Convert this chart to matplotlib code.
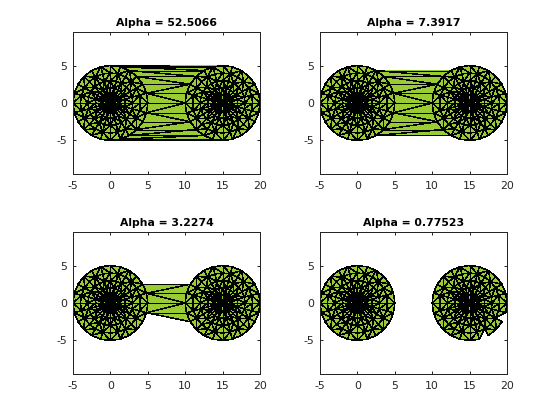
"""Alpha shapes of two ringed point clouds at four alpha radii."""

import matplotlib

matplotlib.use("Agg")

import matplotlib.pyplot as plt
import numpy as np
from matplotlib.collections import LineCollection, PolyCollection

ALPHAS = [52.5066, 7.3917, 3.2274, 0.77523]
TITLES = ["Alpha = 52.5066", "Alpha = 7.3917", "Alpha = 3.2274", "Alpha = 0.77523"]
CLUSTER_CENTRES = [0, 15]
RING_RADII = [1, 2, 3, 4, 5]
SPOKE_ANGLES = [15, 30, 45, 60, 75, 90, 105, 120, 135, 150, 165, 180,
                195, 210, 225, 240, 255, 270, 285, 300, 315, 330, 345, 360]
# diagonal of each cell between two rings, one string per ring gap, one character per spoke
RING_DIAGONALS = [
    "101100110100101101001101",
    "011010011011010010110010",
    "110100101101100101001011",
    "001011010110010010010110",
]
# which diagonal splits each strip between the circles, from y=0 outwards
BRIDGE_DIAGONALS = ["down", "up", "down", "down", "down", "down"]
# triangles missing from each panel, given by a point inside them
HOLES = [[], [], [(6.0, -2.2)], [(19.2, -2.0), (17.0, -4.1)]]
X_TICKS = [-5, 0, 5, 10, 15, 20]
Y_TICKS = [-5, 0, 5]

# pixel boxes of the four axes: left, top, right, bottom
AX_BOXES = [(73, 32, 260, 174), (320, 32, 507, 174), (73, 232, 260, 374), (320, 232, 507, 374)]
FACE = "#99cc33"
AXIS_GREY = "#262626"


def ring_point(centre, radius, angle):
    return (centre + radius * np.cos(np.radians(angle)), radius * np.sin(np.radians(angle)))


def circle_triangles(centre):
    tris = []
    for a, b in zip(SPOKE_ANGLES, SPOKE_ANGLES[1:] + SPOKE_ANGLES[:1]):
        tris.append([(centre, 0.0), ring_point(centre, RING_RADII[0], a), ring_point(centre, RING_RADII[0], b)])
    for k, (r0, r1) in enumerate(zip(RING_RADII, RING_RADII[1:])):
        for i, a in enumerate(SPOKE_ANGLES):
            b = SPOKE_ANGLES[(i + 1) % len(SPOKE_ANGLES)]
            p00, p01 = ring_point(centre, r0, a), ring_point(centre, r0, b)
            p10, p11 = ring_point(centre, r1, a), ring_point(centre, r1, b)
            if RING_DIAGONALS[k][i] == "1":
                tris += [[p00, p01, p11], [p00, p11, p10]]
            else:
                tris += [[p00, p01, p10], [p01, p11, p10]]
    return tris


def bridge_triangles():
    tris = []
    left, right = CLUSTER_CENTRES
    radius = RING_RADII[-1]
    for sign in (1, -1):
        for i, diagonal in enumerate(BRIDGE_DIAGONALS):
            a0, a1 = SPOKE_ANGLES[i] - 15, SPOKE_ANGLES[i]
            l0 = ring_point(left, radius, sign * a0)
            l1 = ring_point(left, radius, sign * a1)
            r0 = ring_point(right, radius, sign * (180 - a0))
            r1 = ring_point(right, radius, sign * (180 - a1))
            if diagonal == "down":
                tris += [[l0, r0, l1], [l1, r0, r1]]
            else:
                tris += [[l0, r0, r1], [l0, r1, l1]]
    return tris


def circumradius(pts):
    a = np.linalg.norm(pts[:, 1] - pts[:, 2], axis=1)
    b = np.linalg.norm(pts[:, 0] - pts[:, 2], axis=1)
    c = np.linalg.norm(pts[:, 0] - pts[:, 1], axis=1)
    u = pts[:, 1] - pts[:, 0]
    v = pts[:, 2] - pts[:, 0]
    area = 0.5 * np.abs(u[:, 0] * v[:, 1] - u[:, 1] * v[:, 0])
    return a * b * c / (4 * area)


def contains(tri, point):
    signs = []
    for j in range(3):
        p, q = tri[j], tri[(j + 1) % 3]
        signs.append((q[0] - p[0]) * (point[1] - p[1]) - (q[1] - p[1]) * (point[0] - p[0]))
    return all(s >= 0 for s in signs) or all(s <= 0 for s in signs)


def unique_edges(tris):
    edges = {}
    for tri in tris:
        for j in range(3):
            p, q = tuple(np.round(tri[j], 6)), tuple(np.round(tri[(j + 1) % 3], 6))
            edges[tuple(sorted((p, q)))] = (p, q)
    return list(edges.values())


def draw_shape(ax, tri_pts, radii, alpha, holes, title):
    keep = radii <= alpha * 1.0001
    for n, tri in enumerate(tri_pts):
        if any(contains(tri, hole) for hole in holes):
            keep[n] = False
    ax.add_collection(PolyCollection(tri_pts[keep], facecolors=FACE, edgecolors="none",
                                     antialiaseds=False))
    ax.add_collection(LineCollection(unique_edges(tri_pts[keep]), colors="black", linewidths=0.36,
                                     antialiaseds=False))
    ax.set_xlim(-5, 20)
    ax.set_ylim(-9.47, 9.47)
    ax.set_xticks(X_TICKS)
    ax.set_yticks(Y_TICKS)
    ax.tick_params(direction="in", length=2, width=0.72, top=True, right=True,
                   labelsize=7.8, colors=AXIS_GREY)
    ax.tick_params(axis="x", pad=5)
    ax.tick_params(axis="y", pad=4)
    for spine in ax.spines.values():
        spine.set_linewidth(0.72)
        spine.set_color(AXIS_GREY)
    ax.set_title(title, fontsize=7.8, weight="bold", pad=4)


def main():
    plt.rcParams["axes.unicode_minus"] = False
    tris = []
    for centre in CLUSTER_CENTRES:
        tris += circle_triangles(centre)
    tris += bridge_triangles()
    tri_pts = np.array(tris)
    radii = circumradius(tri_pts)

    fig = plt.figure(figsize=(5.6, 4.2), dpi=100)
    for box, alpha, holes, title in zip(AX_BOXES, ALPHAS, HOLES, TITLES):
        left, top, right, bottom = box
        ax = fig.add_axes([left / 560, 1 - bottom / 420, (right - left) / 560, (bottom - top) / 420])
        draw_shape(ax, tri_pts, radii, alpha, holes, title)
    fig.savefig("out.png", dpi=100)


if __name__ == "__main__":
    main()
